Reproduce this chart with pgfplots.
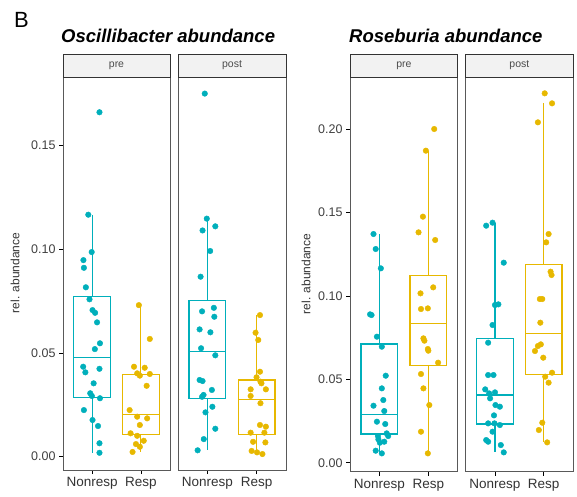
\documentclass[border=0pt]{standalone}
\usepackage{fontspec}
\setmainfont{Liberation Sans}
\usepackage{pgfplots}
\pgfplotsset{compat=1.18}

\definecolor{cnr}{HTML}{00AFBB}
\definecolor{crs}{HTML}{E7B800}

\pgfplotsset{
  facet/.style={
    scale only axis, anchor=south west, clip=false,
    xmin=0.4, xmax=2.6,
    xtick={1,2}, xticklabels={Nonresp,Resp},
    axis line style={gray!70!black, line width=0.8pt},
    tick style={black, line width=0.6pt},
    tick align=outside, major tick length=4pt,
    xtick pos=bottom, ytick pos=left,
    ticklabel style={font=\fontsize{12.5}{14}\selectfont, text=black!75},
    xticklabel style={font=\fontsize{13.5}{15}\selectfont, text=black!80},
    /pgf/number format/fixed, /pgf/number format/fixed zerofill,
    /pgf/number format/precision=2, /pgf/number format/assume math mode=true,
  },
  bx/.style={line width=1.1pt, solid, mark=none, line join=miter},
  pts/.style={only marks, mark=*, mark size=2.8pt, mark options={draw=none}},
}
% box: colour, x left, x centre, x right, lower whisker, lower quartile, median, upper quartile, upper whisker
\newcommand{\bxp}[9]{%
  \addplot[bx,#1] coordinates {(#2,#6) (#4,#6) (#4,#8) (#2,#8) (#2,#6) (#4,#6)};
  \addplot[bx,#1] coordinates {(#2,#7) (#4,#7)};
  \addplot[bx,#1] coordinates {(#3,#8) (#3,#9)};
  \addplot[bx,#1] coordinates {(#3,#6) (#3,#5)};}
\newcommand{\strip}[1]{%
  \draw[fill=gray!10, draw=black!80, line width=0.8pt]
    (rel axis cs:0,1) rectangle (rel axis cs:1,1.0585);
  \node[font=\fontsize{10.5}{12}\selectfont, text=black!70] at (rel axis cs:0.5,1.029) {#1};}

\begin{document}
\begin{tikzpicture}
\useasboundingbox (0,0) rectangle (577pt,496pt);

\node[anchor=base west, inner sep=0pt, font=\fontsize{22}{24}\selectfont] at (14pt,468pt) {B};
\node[anchor=base west, inner sep=0pt, font=\fontsize{18.5}{21}\selectfont\bfseries\itshape] at (61pt,453pt) {Oscillibacter abundance};
\node[anchor=base west, inner sep=0pt, font=\fontsize{18.5}{21}\selectfont\bfseries\itshape] at (349pt,453pt) {Roseburia abundance};
\node[rotate=90, font=\fontsize{12}{14}\selectfont, text=black!80] at (15pt,223pt) {rel. abundance};
\node[rotate=90, font=\fontsize{12}{14}\selectfont, text=black!80] at (306pt,222pt) {rel. abundance};

% Oscillibacter, pre
\begin{axis}[facet, at={(63pt,26pt)}, width=107pt, height=393pt,
  ymin=-0.0065, ymax=0.183, ytick={0,0.05,0.1,0.15}]
\bxp{cnr}{0.625}{1}{1.375}{0.0018}{0.0284}{0.0476}{0.077}{0.1166}
\bxp{crs}{1.625}{2}{2.375}{0.0022}{0.0107}{0.0203}{0.0396}{0.073}
\addplot[pts, color=cnr] coordinates {
(1.15,0.166) (0.92,0.1166) (0.99,0.0986) (0.82,0.0947) (0.83,0.091) (0.87,0.0816)
(0.945,0.0758) (1.007,0.0706) (1.06,0.0693) (1.1,0.0647) (1.16,0.0546) (1.055,0.0518)
(0.815,0.0433) (0.86,0.0406) (1.15,0.0423) (1.03,0.0353) (0.96,0.0305) (0.993,0.0292)
(1.16,0.0281) (0.83,0.0224) (1.007,0.0176) (1.12,0.0147) (1.15,0.0064) (1.15,0.0018)};
\addplot[pts, color=crs] coordinates {
(1.96,0.073) (2.185,0.0567) (1.86,0.0433) (2.08,0.0428) (1.925,0.0401) (1.98,0.039)
(2.185,0.0398) (2.12,0.0341) (1.77,0.0224) (1.925,0.0192) (2.13,0.0184) (1.98,0.0152)
(1.79,0.0112) (1.925,0.01) (2.06,0.0076) (1.9,0.006) (1.98,0.0047) (1.83,0.0022)};
\strip{pre}
\end{axis}

% Oscillibacter, post
\begin{axis}[facet, at={(178pt,26pt)}, width=108pt, height=393pt,
  ymin=-0.0065, ymax=0.183, ytick=\empty]
\bxp{cnr}{0.625}{1}{1.375}{0.0031}{0.0281}{0.0507}{0.0751}{0.1147}
\bxp{crs}{1.625}{2}{2.375}{0.0012}{0.0107}{0.0276}{0.0369}{0.0682}
\addplot[pts, color=cnr] coordinates {
(0.945,0.175) (0.986,0.1147) (0.9,0.109) (1.16,0.111) (1.055,0.0991) (0.86,0.0867)
(0.89,0.07) (1.13,0.0717) (1.14,0.0674) (0.84,0.0613) (1.06,0.0599) (0.87,0.0522)
(1.16,0.0488) (0.84,0.0369) (0.9,0.0364) (1.09,0.0321) (0.92,0.0297) (0.89,0.0288)
(1.1,0.024) (0.96,0.0213) (1.16,0.0134) (0.925,0.0084) (0.8,0.003)};
\addplot[pts, color=crs] coordinates {
(2.07,0.0682) (1.98,0.0597) (2.035,0.0562) (2.07,0.0409) (2.0,0.0382) (2.08,0.0361)
(2.1,0.0353) (1.88,0.0324) (2.19,0.0324) (1.88,0.0292) (2.08,0.0257) (2.07,0.0152)
(2.19,0.0144) (1.88,0.0115) (2.16,0.0115) (1.93,0.0071) (2.18,0.0068) (1.9,0.0027)
(2.01,0.002) (2.12,0.0012)};
\strip{post}
\end{axis}

% Roseburia, pre
\begin{axis}[facet, at={(350pt,24.3pt)}, width=107.7pt, height=394.7pt,
  ymin=-0.0054, ymax=0.2314, ytick={0,0.05,0.1,0.15,0.2}]
\bxp{cnr}{0.625}{1}{1.375}{0.0056}{0.0172}{0.029}{0.0712}{0.1372}
\bxp{crs}{1.625}{2}{2.375}{0.0056}{0.0584}{0.0836}{0.1122}{0.1872}
\addplot[pts, color=cnr] coordinates {
(0.88,0.1372) (0.925,0.1282) (1.03,0.1166) (0.81,0.089) (0.84,0.0886) (0.95,0.0756)
(1.05,0.0696) (1.13,0.0522) (1.05,0.0446) (1.08,0.0376) (0.88,0.0342) (1.1,0.031)
(0.95,0.0246) (1.12,0.0232) (1.15,0.0176) (0.97,0.016) (0.98,0.014) (1.01,0.012)
(1.18,0.016) (1.1,0.0126) (0.925,0.0072) (1.05,0.0056)};
\addplot[pts, color=crs] coordinates {
(2.12,0.2002) (1.95,0.1872) (1.89,0.1476) (1.8,0.1382) (2.14,0.1336) (2.1,0.1052)
(1.84,0.1016) (1.85,0.0922) (1.99,0.0926) (1.9,0.0746) (1.92,0.0732) (1.99,0.0682)
(2.0,0.0672) (2.2,0.06) (1.85,0.0532) (1.9,0.0446) (2.02,0.0346) (1.85,0.0186)
(1.99,0.0056)};
\strip{pre}
\end{axis}

% Roseburia, post
\begin{axis}[facet, at={(465.7pt,24.3pt)}, width=107.3pt, height=394.7pt,
  ymin=-0.0054, ymax=0.2314, ytick=\empty]
\bxp{cnr}{0.625}{1}{1.375}{0.0062}{0.0232}{0.0406}{0.0746}{0.144}
\bxp{crs}{1.625}{2}{2.375}{0.0122}{0.053}{0.0776}{0.119}{0.2156}
\addplot[pts, color=cnr] coordinates {
(0.82,0.1422) (0.95,0.144) (1.18,0.12) (1.0,0.0946) (1.07,0.095) (0.95,0.0826)
(0.86,0.072) (0.86,0.0526) (0.97,0.0526) (0.8,0.044) (1.0,0.0422) (0.88,0.0416)
(0.9,0.0386) (1.01,0.0346) (1.1,0.0336) (0.98,0.0284) (0.86,0.0236) (0.99,0.0236)
(1.1,0.0226) (0.95,0.0186) (0.82,0.0136) (0.86,0.0126) (1.12,0.0106) (1.18,0.0062)};
\addplot[pts, color=crs] coordinates {
(2.02,0.2216) (2.17,0.2156) (1.88,0.2042) (2.1,0.1372) (2.05,0.1322) (2.14,0.1146)
(2.16,0.1126) (1.92,0.0982) (1.97,0.0982) (1.93,0.084) (1.94,0.071) (1.88,0.07)
(1.82,0.067) (1.99,0.063) (2.17,0.054) (2.03,0.0516) (2.1,0.048) (1.97,0.024)
(1.9,0.0196) (2.07,0.0122)};
\strip{post}
\end{axis}
\end{tikzpicture}
\end{document}
